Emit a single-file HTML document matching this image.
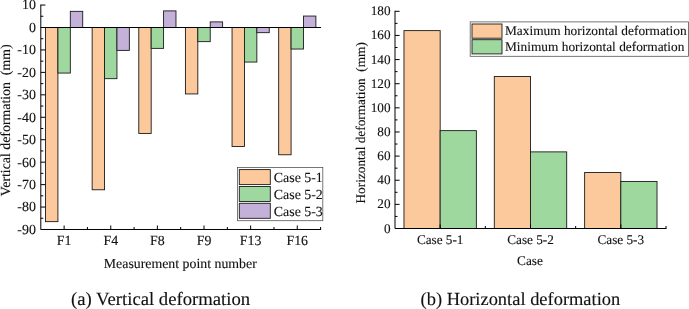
<!DOCTYPE html><html><head><meta charset="utf-8"><title>Deformation charts</title>
<style>html,body{margin:0;padding:0;background:#fff}svg{display:block}text{text-rendering:geometricPrecision;stroke:#111;stroke-width:0.12px;font-family:"Liberation Serif","Times New Roman",serif;fill:#111}</style></head><body>
<svg width="689" height="309" viewBox="0 0 689 309">
<rect width="689" height="309" fill="#fff"/>
<g stroke="#1a1a1a" stroke-width="0.9">
<rect x="45.52" y="27.50" width="12.40" height="194.14" fill="#fcc99c"/>
<rect x="57.92" y="27.50" width="12.40" height="45.56" fill="#9fd89f"/>
<rect x="70.32" y="11.34" width="12.40" height="16.16" fill="#c3b1d9"/>
<rect x="92.15" y="27.50" width="12.40" height="162.27" fill="#fcc99c"/>
<rect x="104.55" y="27.50" width="12.40" height="51.17" fill="#9fd89f"/>
<rect x="116.95" y="27.50" width="12.40" height="22.89" fill="#c3b1d9"/>
<rect x="138.78" y="27.50" width="12.40" height="105.94" fill="#fcc99c"/>
<rect x="151.18" y="27.50" width="12.40" height="20.87" fill="#9fd89f"/>
<rect x="163.58" y="10.89" width="12.40" height="16.61" fill="#c3b1d9"/>
<rect x="185.42" y="27.50" width="12.40" height="66.43" fill="#fcc99c"/>
<rect x="197.82" y="27.50" width="12.40" height="14.14" fill="#9fd89f"/>
<rect x="210.22" y="21.89" width="12.40" height="5.61" fill="#c3b1d9"/>
<rect x="232.05" y="27.50" width="12.40" height="118.95" fill="#fcc99c"/>
<rect x="244.45" y="27.50" width="12.40" height="34.56" fill="#9fd89f"/>
<rect x="256.85" y="27.50" width="12.40" height="5.16" fill="#c3b1d9"/>
<rect x="278.68" y="27.50" width="12.40" height="127.26" fill="#fcc99c"/>
<rect x="291.08" y="27.50" width="12.40" height="21.55" fill="#9fd89f"/>
<rect x="303.48" y="16.05" width="12.40" height="11.45" fill="#c3b1d9"/>
</g>
<g stroke="#000" stroke-width="1" fill="none">
<path d="M40.8 4.555999999999997V229.496"/>
<path d="M40.8 229.496H321.1"/>
<path d="M40.8 27.5H321.1"/>
<path d="M40.8 5.06h4.6M40.8 27.50h4.6M40.8 49.94h4.6M40.8 72.39h4.6M40.8 94.83h4.6M40.8 117.28h4.6M40.8 139.72h4.6M40.8 162.16h4.6M40.8 184.61h4.6M40.8 207.05h4.6M40.8 229.50h4.6M40.8 16.28h2.5M40.8 38.72h2.5M40.8 61.17h2.5M40.8 83.61h2.5M40.8 106.05h2.5M40.8 128.50h2.5M40.8 150.94h2.5M40.8 173.39h2.5M40.8 195.83h2.5M40.8 218.27h2.5"/>
<path d="M64.12 229.496v-4M87.43 229.496v-2.5M110.75 229.496v-4M134.07 229.496v-2.5M157.38 229.496v-4M180.70 229.496v-2.5M204.02 229.496v-4M227.33 229.496v-2.5M250.65 229.496v-4M273.97 229.496v-2.5M297.28 229.496v-4M320.60 229.496v-2.5"/>
</g>
<text x="35.90" y="9.46" font-size="13.9" text-anchor="end">10</text>
<text x="35.90" y="31.90" font-size="13.9" text-anchor="end">0</text>
<text x="35.90" y="54.34" font-size="13.9" text-anchor="end">-10</text>
<text x="35.90" y="76.79" font-size="13.9" text-anchor="end">-20</text>
<text x="35.90" y="99.23" font-size="13.9" text-anchor="end">-30</text>
<text x="35.90" y="121.68" font-size="13.9" text-anchor="end">-40</text>
<text x="35.90" y="144.12" font-size="13.9" text-anchor="end">-50</text>
<text x="35.90" y="166.56" font-size="13.9" text-anchor="end">-60</text>
<text x="35.90" y="189.01" font-size="13.9" text-anchor="end">-70</text>
<text x="35.90" y="211.45" font-size="13.9" text-anchor="end">-80</text>
<text x="35.90" y="233.90" font-size="13.9" text-anchor="end">-90</text>
<text x="64.12" y="244.8" font-size="13.9" text-anchor="middle">F1</text>
<text x="110.75" y="244.8" font-size="13.9" text-anchor="middle">F4</text>
<text x="157.38" y="244.8" font-size="13.9" text-anchor="middle">F8</text>
<text x="204.02" y="244.8" font-size="13.9" text-anchor="middle">F9</text>
<text x="250.65" y="244.8" font-size="13.9" text-anchor="middle">F13</text>
<text x="297.28" y="244.8" font-size="13.9" text-anchor="middle">F16</text>
<text x="180.3" y="268" font-size="13.85" text-anchor="middle">Measurement point number</text>
<text transform="translate(9.6 120.3) rotate(-90)" font-size="13.85" text-anchor="middle" style="white-space:pre">Vertical deformation  (mm)</text>
<text x="160.6" y="304.7" font-size="18.7" text-anchor="middle">(a) Vertical deformation</text>
<rect x="237.4" y="167.5" width="85.4" height="53.2" fill="#fff" stroke="#555" stroke-width="0.8"/>
<rect x="239.3" y="169.60" width="31" height="15" fill="#fcc99c" stroke="#1a1a1a" stroke-width="0.9"/>
<text x="273.8" y="181.90" font-size="13.9">Case 5-1</text>
<rect x="239.3" y="186.45" width="31" height="15" fill="#9fd89f" stroke="#1a1a1a" stroke-width="0.9"/>
<text x="273.8" y="198.75" font-size="13.9">Case 5-2</text>
<rect x="239.3" y="203.30" width="31" height="15" fill="#c3b1d9" stroke="#1a1a1a" stroke-width="0.9"/>
<text x="273.8" y="215.60" font-size="13.9">Case 5-3</text>
<g stroke="#1a1a1a" stroke-width="0.9">
<rect x="403.97" y="30.61" width="36.20" height="197.89" fill="#fcc99c"/>
<rect x="440.17" y="130.64" width="36.20" height="97.86" fill="#9fd89f"/>
<rect x="494.30" y="76.46" width="36.20" height="152.04" fill="#fcc99c"/>
<rect x="530.50" y="151.88" width="36.20" height="76.62" fill="#9fd89f"/>
<rect x="584.63" y="172.45" width="36.20" height="56.05" fill="#fcc99c"/>
<rect x="620.83" y="181.44" width="36.20" height="47.06" fill="#9fd89f"/>
</g>
<g stroke="#000" stroke-width="1" fill="none">
<path d="M395.0 10.800000000000011V228.5"/>
<path d="M395.0 228.5H666.5"/>
<path d="M395.0 228.50h4.6M395.0 204.37h4.6M395.0 180.23h4.6M395.0 156.10h4.6M395.0 131.97h4.6M395.0 107.83h4.6M395.0 83.70h4.6M395.0 59.57h4.6M395.0 35.43h4.6M395.0 11.30h4.6M395.0 216.43h2.5M395.0 192.30h2.5M395.0 168.17h2.5M395.0 144.03h2.5M395.0 119.90h2.5M395.0 95.77h2.5M395.0 71.63h2.5M395.0 47.50h2.5M395.0 23.37h2.5M440.17 228.5v-4M485.33 228.5v-2.5M530.50 228.5v-4M575.67 228.5v-2.5M620.83 228.5v-4M666.00 228.5v-2.5"/>
</g>
<text x="390.5" y="232.50" font-size="13.2" text-anchor="end">0</text>
<text x="390.5" y="208.37" font-size="13.2" text-anchor="end">20</text>
<text x="390.5" y="184.23" font-size="13.2" text-anchor="end">40</text>
<text x="390.5" y="160.10" font-size="13.2" text-anchor="end">60</text>
<text x="390.5" y="135.97" font-size="13.2" text-anchor="end">80</text>
<text x="390.5" y="111.83" font-size="13.2" text-anchor="end">100</text>
<text x="390.5" y="87.70" font-size="13.2" text-anchor="end">120</text>
<text x="390.5" y="63.57" font-size="13.2" text-anchor="end">140</text>
<text x="390.5" y="39.43" font-size="13.2" text-anchor="end">160</text>
<text x="390.5" y="15.30" font-size="13.2" text-anchor="end">180</text>
<text x="440.17" y="244" font-size="13.2" text-anchor="middle">Case 5-1</text>
<text x="530.50" y="244" font-size="13.2" text-anchor="middle">Case 5-2</text>
<text x="620.83" y="244" font-size="13.2" text-anchor="middle">Case 5-3</text>
<text x="530" y="265.4" font-size="13.3" text-anchor="middle">Case</text>
<text transform="translate(365 122.8) rotate(-90)" font-size="13.3" text-anchor="middle" style="white-space:pre">Horizontal deformation  (mm)</text>
<text x="520.4" y="304.5" font-size="18.45" text-anchor="middle">(b) Horizontal deformation</text>
<rect x="470.2" y="21.9" width="218.3" height="34.4" fill="#fff" stroke="#555" stroke-width="0.8"/>
<rect x="472" y="24.00" width="30" height="14.2" fill="#fcc99c" stroke="#1a1a1a" stroke-width="0.9"/>
<text x="505" y="35.00" font-size="13.35">Maximum horizontal deformation</text>
<rect x="472" y="39.70" width="30" height="14.2" fill="#9fd89f" stroke="#1a1a1a" stroke-width="0.9"/>
<text x="505" y="51.25" font-size="13.35">Minimum horizontal deformation</text>
</svg></body></html>
